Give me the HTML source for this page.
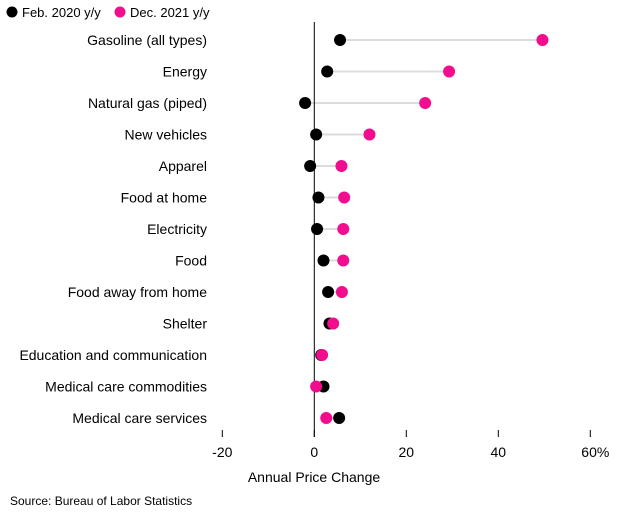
<!DOCTYPE html>
<html><head><meta charset="utf-8"><style>
body{margin:0;background:#fff;font-family:"Liberation Sans",sans-serif}
svg text{font-family:"Liberation Sans",sans-serif;fill:#000}
</style></head><body>
<svg width="631" height="509" id="c">
<g>
<circle cx="12" cy="12" r="5.5" fill="#000"/>
<text x="22" y="17" font-size="13">Feb. 2020 y/y</text>
<circle cx="120" cy="12" r="5.5" fill="#f20c8e"/>
<text x="130" y="17" font-size="13">Dec. 2021 y/y</text>
</g>
<text x="314" y="482" font-size="14" text-anchor="middle">Annual Price Change</text>
<text x="10" y="505" font-size="12">Source: Bureau of Labor Statistics</text>
</svg>
<script>
const categories=["Gasoline (all types)","Energy","Natural gas (piped)","New vehicles","Apparel","Food at home","Electricity","Food","Food away from home","Shelter","Education and communication","Medical care commodities","Medical care services"];
const feb2020=[5.6,2.8,-2,0.4,-0.9,0.9,0.6,2,3,3.3,1.5,2,5.4];
const dec2021=[49.6,29.3,24.1,12,5.9,6.5,6.3,6.3,6,4.1,1.7,0.4,2.6];
const ticks=[-20,0,20,40,60];
const tickLabels=["-20","0","20","40","60%"];
const NS="http://www.w3.org/2000/svg";
const svg=document.getElementById('c');
const x=v=>314.3+v*4.6;
const y=i=>40+i*31.5;
function mk(t,a){const e=document.createElementNS(NS,t);for(const k in a)e.setAttribute(k,a[k]);svg.appendChild(e);return e;}
ticks.forEach((t,i)=>{
 const l=mk('line',{x1:x(t),x2:x(t),y1:430,y2:437,stroke:'#000','stroke-width':1});
 
 
 const tx=mk('text',{x:x(t)+(i==4?5:0),y:457,'font-size':14,'text-anchor':'middle'});
 tx.textContent=tickLabels[i];
 
 
});
categories.forEach((c,i)=>{
 const lb=mk('text',{x:207,y:y(i)+5,'font-size':14,'text-anchor':'end'});
 lb.textContent=c;
 
 
 const ln=mk('line',{x1:x(feb2020[i]),x2:x(dec2021[i]),y1:y(i),y2:y(i),stroke:'#dcdcdc','stroke-width':2});
 
 
});
const z=mk('line',{x1:x(0),x2:x(0),y1:22,y2:437,stroke:'#000','stroke-width':1});


categories.forEach((c,i)=>{
 const b=mk('circle',{cx:x(feb2020[i]),cy:y(i),r:6,fill:'#000'});
 
 
 const p=mk('circle',{cx:x(dec2021[i]),cy:y(i),r:6,fill:'#f20c8e'});
 
 
});
</script>
</body></html>
